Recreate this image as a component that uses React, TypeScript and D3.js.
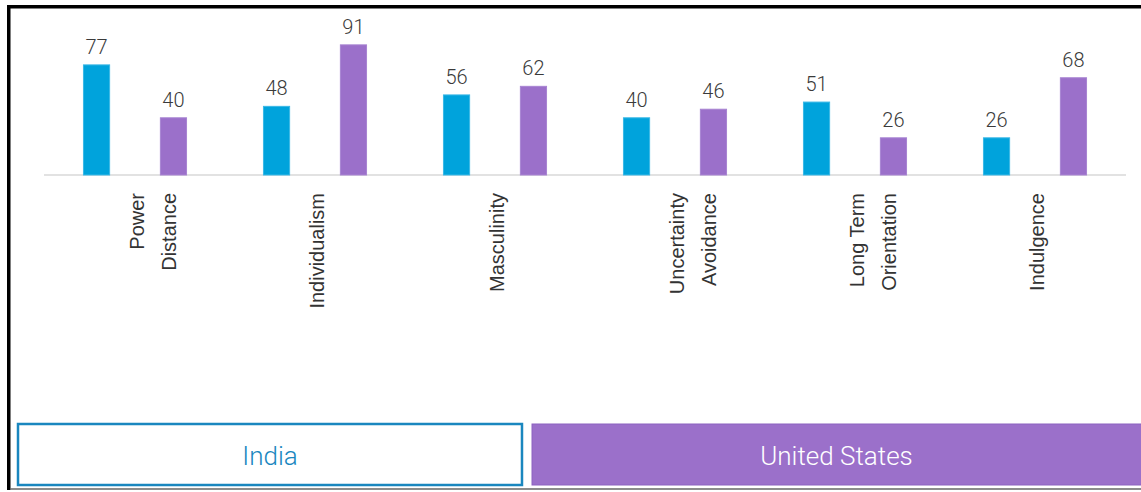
import React from "react";
import * as d3 from "d3";

const categories: string[][] = [
  ["Power", "Distance"],
  ["Individualism"],
  ["Masculinity"],
  ["Uncertainty", "Avoidance"],
  ["Long Term", "Orientation"],
  ["Indulgence"],
];
const seriesNames = ["India", "United States"];
const indiaValues = [77, 48, 56, 40, 51, 26];
const usValues = [40, 91, 62, 46, 26, 68];
const seriesColors = ["#00a3dc", "#9b70ca"];

const W = 1141;
const H = 492;

export default function App() {
  const keys = categories.map((c) => c.join(" "));
  const x0 = d3.scaleBand<string>().domain(keys).range([45, 1125]).padding(0);
  const x1 = d3
    .scaleBand<string>()
    .domain(seriesNames)
    .range([0, x0.bandwidth()])
    .paddingInner(0.66)
    .paddingOuter(0.5);
  const y = d3.scaleLinear().domain([0, 100]).range([175, 32]);
  const data = keys.map((k, i) => ({ key: k, lines: categories[i], vals: [indiaValues[i], usValues[i]] }));

  const legend = d3.scaleBand<string>().domain(seriesNames).range([18, 1036]).paddingInner(0.0195);

  return (
    <div style={{ position: "absolute", left: 0, top: 0 }}>
      <svg width={W} height={H} style={{ display: "block", background: "#fff" }}>
        {/* frame */}
        <path d={`M8.75,490 L8.75,6.75 L${W},6.75`} fill="none" stroke="#000" strokeWidth={3.5} />
        <line x1={10} x2={W} y1={489} y2={489} stroke="#666" strokeWidth={1.5} />

        {/* baseline */}
        <line x1={44} x2={1126} y1={y(0)} y2={y(0)} stroke="#e2e2e2" strokeWidth={2} />

        {data.map((d) => (
          <g key={d.key} transform={`translate(${x0(d.key)},0)`}>
            {d.vals.map((v, j) => {
              const bx = x1(seriesNames[j])!;
              return (
                <g key={j}>
                  <rect
                    x={bx}
                    y={y(v)}
                    width={x1.bandwidth()}
                    height={y(0) - y(v)}
                    fill={seriesColors[j]}
                    stroke={j === 0 ? "#3bb8e6" : "#a884d2"}
                    strokeWidth={1}
                  />
                  <text
                    x={bx + x1.bandwidth() / 2}
                    y={y(v) - 11}
                    textAnchor="middle"
                    fontFamily="Roboto, 'Noto Sans', sans-serif"
                    fontWeight={300}
                    fontSize={20}
                    fill="#3a3a3a"
                  >
                    {v}
                  </text>
                </g>
              );
            })}
            {d.lines.map((ln, li) => (
              <text
                key={li}
                transform={`translate(${x0.bandwidth() / 2 + 9 + li * 32},193) rotate(-90)`}
                textAnchor="end"
                fontFamily="'Liberation Sans', Arial, sans-serif"
                fontSize={20}
                fill="#333"
              >
                {ln}
              </text>
            ))}
          </g>
        ))}

        {/* legend */}
        {seriesNames.map((s, i) => {
          const lx = legend(s)!;
          const lw = i === 0 ? legend.bandwidth() : W - lx + 2;
          return (
            <g key={s}>
              <rect
                x={lx}
                y={424}
                width={lw}
                height={61}
                fill={i === 0 ? "#fff" : "#9b70ca"}
                stroke={i === 0 ? "#1a87bf" : "#8c62c0"}
                strokeWidth={i === 0 ? 2.5 : 1}
              />
              <text
                x={i === 0 ? lx + lw / 2 : lx + (W - lx) / 2}
                y={456}
                dy="0.36em"
                textAnchor="middle"
                fontFamily="Roboto, 'Noto Sans', sans-serif"
                fontWeight={300}
                fontSize={26}
                fill={i === 0 ? "#1a87bf" : "#fff"}
              >
                {s}
              </text>
            </g>
          );
        })}
      </svg>
    </div>
  );
}
